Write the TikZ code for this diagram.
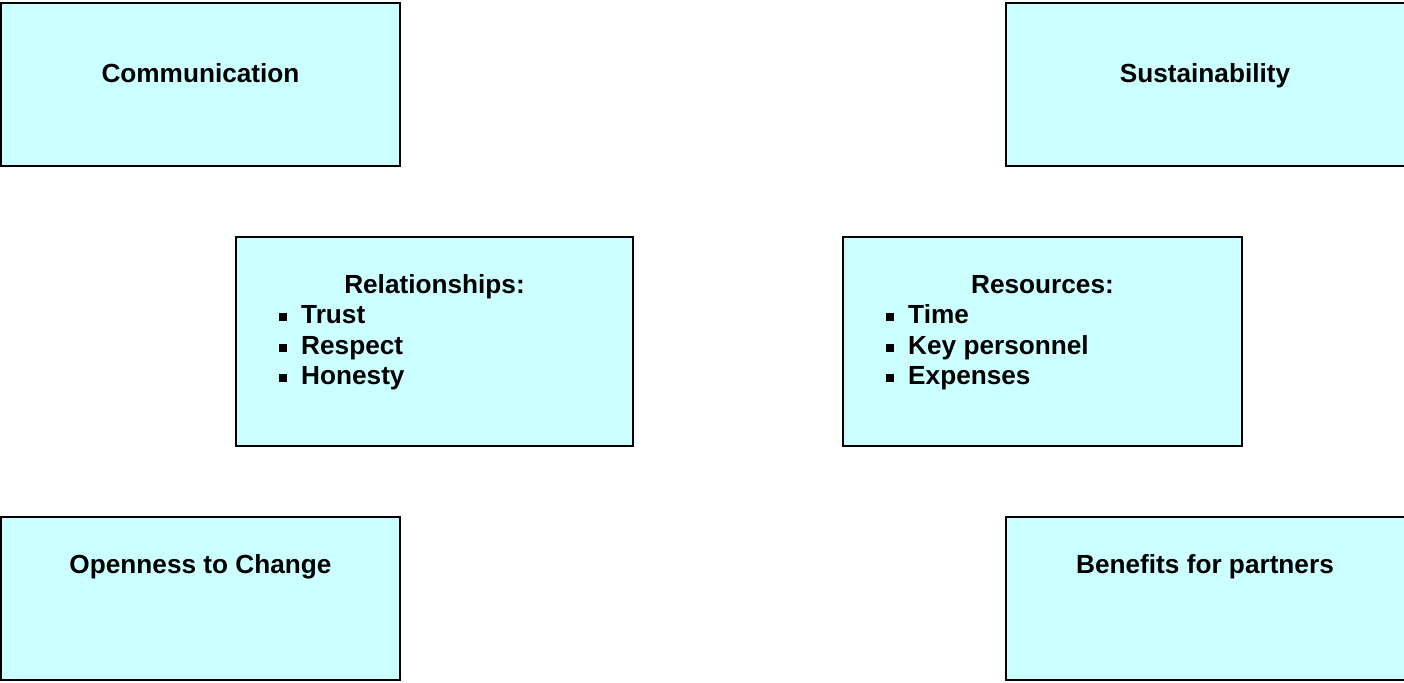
\documentclass[tikz,border=0pt]{standalone}
\usepackage{fontspec}
\setmainfont{Liberation Sans}
\definecolor{boxfill}{RGB}{204,255,255}
\newcommand\blt{\makebox[22pt][l]{\rule[2pt]{8pt}{8pt}}}
\begin{document}
\begin{tikzpicture}[x=1pt,y=-1pt,
  box/.style={draw=black,line width=2pt,fill=boxfill,inner sep=0pt,outer sep=0pt,anchor=north west},
  lbl/.style={font=\bfseries\fontsize{26.2}{30.5}\selectfont,inner sep=0pt,anchor=base},
  itm/.style={lbl,anchor=base west}]
\useasboundingbox (0,0) rectangle (1404,682);
% boxes
\node[box,minimum width=399pt,minimum height=163pt] (comm) at (1,3) {};
\node[box,minimum width=400pt,minimum height=163pt] (sust) at (1006,3) {};
\node[box,minimum width=397pt,minimum height=209pt] (rel) at (236,237) {};
\node[box,minimum width=399pt,minimum height=209pt] (res) at (843,237) {};
\node[box,minimum width=399pt,minimum height=163pt] (open) at (1,517) {};
\node[box,minimum width=400pt,minimum height=163pt] (ben) at (1006,517) {};
% labels
\node[lbl] (commT) at (200.5,83) {Communication};
\node[lbl] (sustT) at (1205,83) {Sustainability};
\node[lbl] (openT) at (200.5,573) {Openness to Change};
\node[lbl] (benT) at (1205,573) {Benefits for partners};
\node[lbl] (relT) at (434.5,293) {Relationships:};
\node[itm] (rel1) at (279,323) {\blt Trust};
\node[itm] (rel2) at (279,354) {\blt Respect};
\node[itm] (rel3) at (279,384) {\blt Honesty};
\node[lbl] (resT) at (1042.5,293) {Resources:};
\node[itm] (res1) at (886,323) {\blt Time};
\node[itm] (res2) at (886,354) {\blt Key personnel};
\node[itm] (res3) at (886,384) {\blt Expenses};
\end{tikzpicture}
\end{document}
